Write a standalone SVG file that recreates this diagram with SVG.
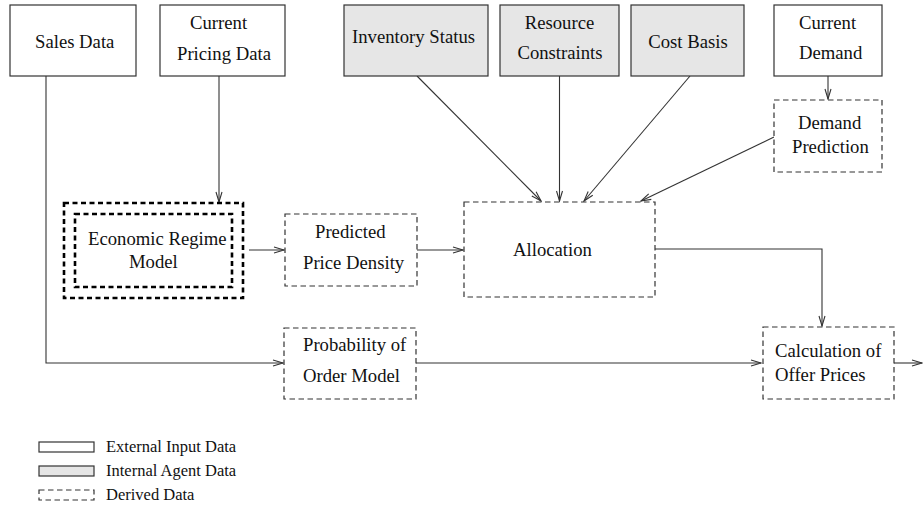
<svg xmlns="http://www.w3.org/2000/svg" width="923" height="508" viewBox="0 0 923 508">
<style>
text{font-family:"Liberation Serif","Times New Roman",serif;font-size:18.7px;fill:#111}
.ext{fill:#fff;stroke:#333;stroke-width:1.2}
.int{fill:#e6e6e6;stroke:#333;stroke-width:1.2}
.der{fill:#fff;stroke:#333;stroke-width:1.2;stroke-dasharray:5.5 3.5}
.thick{fill:none;stroke:#000;stroke-width:2.6;stroke-dasharray:5 3.5}
.c{fill:none;stroke:#333;stroke-width:1.1}
.m{text-anchor:middle}
.lg{font-size:16.5px}
</style>
<defs>
<marker id="ah" markerUnits="userSpaceOnUse" markerWidth="12" markerHeight="8" viewBox="-11 -4 12 8" refX="0" refY="0" orient="auto">
<path d="M-10,-3 L0,0 L-10,3" fill="none" stroke="#333" stroke-width="1.1"/>
</marker>
</defs>
<g id="connectors">
<path class="c" d="M46,76 V363 H283" marker-end="url(#ah)"/>
<path class="c" d="M219,76 V202" marker-end="url(#ah)"/>
<path class="c" d="M249,250 H284" marker-end="url(#ah)"/>
<path class="c" d="M417,250 H463" marker-end="url(#ah)"/>
<path class="c" d="M417,76 L541,201" marker-end="url(#ah)"/>
<path class="c" d="M559.5,76 V201" marker-end="url(#ah)"/>
<path class="c" d="M690,76 L584,201" marker-end="url(#ah)"/>
<path class="c" d="M774,137 L641,201" marker-end="url(#ah)"/>
<path class="c" d="M828,76 V99" marker-end="url(#ah)"/>
<path class="c" d="M655,249 H822 V326" marker-end="url(#ah)"/>
<path class="c" d="M416,363 H761" marker-end="url(#ah)"/>
<path class="c" d="M894,363 H922" marker-end="url(#ah)"/>
</g>
<g id="sales-data"><rect class="ext" x="10" y="5" width="126" height="71"/><text x="35" y="48">Sales Data</text></g>
<g id="current-pricing-data"><rect class="ext" x="160" y="5" width="125" height="71"/><text x="190" y="29">Current</text><text x="177" y="60">Pricing Data</text></g>
<g id="inventory-status"><rect class="int" x="344" y="5" width="144" height="71"/><text x="352" y="43">Inventory Status</text></g>
<g id="resource-constraints"><rect class="int" x="500" y="5" width="119" height="71"/><text class="m" x="559.5" y="29">Resource</text><text class="m" x="560" y="59">Constraints</text></g>
<g id="cost-basis"><rect class="int" x="631" y="5" width="113" height="71"/><text class="m" x="688" y="48">Cost Basis</text></g>
<g id="current-demand"><rect class="ext" x="774" y="5" width="108" height="71"/><text x="799" y="29">Current</text><text x="799" y="59">Demand</text></g>
<g id="demand-prediction"><rect class="der" x="774" y="100" width="108" height="72"/><text x="798" y="129">Demand</text><text x="792" y="153">Prediction</text></g>
<g id="economic-regime-model"><rect class="thick" x="64" y="203" width="179" height="95"/><rect class="thick" x="75" y="214" width="157" height="73"/><text x="88" y="245">Economic Regime</text><text x="129" y="268">Model</text></g>
<g id="predicted-price-density"><rect class="der" x="285" y="214" width="132" height="72"/><text x="315" y="238">Predicted</text><text x="303" y="269">Price Density</text></g>
<g id="allocation"><rect class="der" x="464" y="202" width="191" height="95"/><text x="513" y="256">Allocation</text></g>
<g id="probability-of-order-model"><rect class="der" x="284" y="328" width="132" height="71"/><text x="303" y="351">Probability of</text><text x="303" y="382">Order Model</text></g>
<g id="calculation-of-offer-prices"><rect class="der" x="763" y="327" width="131" height="72"/><text x="775" y="357">Calculation of</text><text x="775" y="381">Offer Prices</text></g>
<g id="legend">
<rect class="ext" x="39" y="442" width="55" height="10"/><text class="lg" x="106" y="452">External Input Data</text>
<rect class="int" x="39" y="466" width="55" height="10"/><text class="lg" x="106" y="476">Internal Agent Data</text>
<rect class="der" x="39" y="490" width="55" height="10"/><text class="lg" x="106" y="500">Derived Data</text>
</g>
</svg>
